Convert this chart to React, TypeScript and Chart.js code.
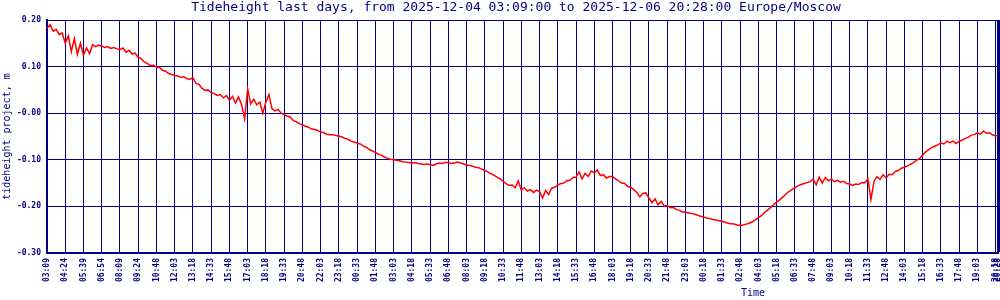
import React, { useEffect, useRef } from "react";
import { Chart, registerables } from "chart.js";

Chart.register(...registerables);

const TITLE = "Tideheight last days, from 2025-12-04 03:09:00 to 2025-12-06 20:28:00 Europe/Moscow";
const Y_TITLE = "tideheight project, m";
const X_TITLE = "Time";

const tickLabels = [
  "03:09", "04:24", "05:39", "06:54", "08:09", "09:24", "10:48", "12:03", "13:18", "14:33",
  "15:48", "17:03", "18:18", "19:33", "20:48", "22:03", "23:18", "00:33", "01:48", "03:03",
  "04:18", "05:33", "06:48", "08:03", "09:18", "10:33", "11:48", "13:03", "14:18", "15:33",
  "16:48", "18:03", "19:18", "20:33", "21:48", "23:03", "00:18", "01:33", "02:48", "04:03",
  "05:18", "06:33", "07:48", "09:03", "10:18", "11:33", "12:48", "14:03", "15:18", "16:33",
  "17:48", "19:03", "20:18",
];
const endLabel = "20:28";
const minutesPerTick = 75;
const endMinutesAfterLastTick = 10;
const samplesPerTick = 6;

const yTickValues = [0.2, 0.1, 0, -0.1, -0.2, -0.3];
const yTickLabels = ["0.20", "0.10", "-0.00", "-0.10", "-0.20", "-0.30"];

// tide height (m), 6 samples per label interval
const tideHeight = [
  0.182, 0.190, 0.176, 0.180, 0.169, 0.172,
  0.150, 0.166, 0.132, 0.160, 0.126, 0.150,
  0.124, 0.140, 0.128, 0.147, 0.143, 0.146,
  0.144, 0.141, 0.143, 0.139, 0.141, 0.138,
  0.137, 0.140, 0.131, 0.135, 0.127, 0.129,
  0.120, 0.117, 0.110, 0.107, 0.102, 0.103,
  0.099, 0.098, 0.092, 0.090, 0.085, 0.083,
  0.081, 0.080, 0.077, 0.078, 0.074, 0.073,
  0.076, 0.064, 0.062, 0.053, 0.049, 0.050,
  0.044, 0.042, 0.038, 0.040, 0.033, 0.038,
  0.028, 0.036, 0.022, 0.035, 0.018, -0.012,
  0.052, 0.020, 0.030, 0.018, 0.024, 0.000,
  0.024, 0.040, 0.010, 0.005, 0.008, 0.000,
  -0.003, -0.006, -0.008, -0.016, -0.018, -0.023,
  -0.025, -0.028, -0.030, -0.034, -0.035, -0.037,
  -0.040, -0.042, -0.045, -0.046, -0.046, -0.048,
  -0.049, -0.051, -0.054, -0.056, -0.060, -0.062,
  -0.064, -0.066, -0.070, -0.073, -0.078, -0.081,
  -0.084, -0.088, -0.090, -0.094, -0.097, -0.099,
  -0.100, -0.101, -0.102, -0.104, -0.105, -0.106,
  -0.107, -0.106, -0.108, -0.109, -0.110, -0.109,
  -0.110, -0.112, -0.109, -0.107, -0.108, -0.106,
  -0.106, -0.108, -0.107, -0.105, -0.107, -0.109,
  -0.111, -0.112, -0.114, -0.116, -0.117, -0.120,
  -0.123, -0.126, -0.130, -0.133, -0.137, -0.141,
  -0.146, -0.151, -0.155, -0.154, -0.160, -0.145,
  -0.165, -0.160, -0.167, -0.164, -0.170, -0.165,
  -0.168, -0.182, -0.166, -0.174, -0.161, -0.159,
  -0.154, -0.151, -0.150, -0.145, -0.144, -0.138,
  -0.137, -0.126, -0.141, -0.129, -0.136, -0.124,
  -0.128, -0.122, -0.134, -0.132, -0.139, -0.136,
  -0.136, -0.141, -0.145, -0.150, -0.151, -0.157,
  -0.159, -0.164, -0.170, -0.180, -0.172, -0.171,
  -0.182, -0.192, -0.184, -0.197, -0.189, -0.199,
  -0.198, -0.203, -0.202, -0.207, -0.208, -0.212,
  -0.212, -0.214, -0.215, -0.217, -0.219, -0.221,
  -0.223, -0.225, -0.226, -0.228, -0.229, -0.231,
  -0.232, -0.234, -0.236, -0.237, -0.238, -0.240,
  -0.241, -0.240, -0.238, -0.236, -0.233, -0.229,
  -0.224, -0.220, -0.213, -0.208, -0.202, -0.196,
  -0.191, -0.186, -0.180, -0.174, -0.168, -0.164,
  -0.160, -0.156, -0.153, -0.151, -0.149, -0.147,
  -0.141, -0.154, -0.137, -0.150, -0.138, -0.145,
  -0.141, -0.147, -0.144, -0.148, -0.146, -0.151,
  -0.152, -0.155, -0.152, -0.153, -0.149, -0.149,
  -0.141, -0.185, -0.147, -0.136, -0.142, -0.132,
  -0.139, -0.131, -0.132, -0.125, -0.123, -0.118,
  -0.116, -0.113, -0.110, -0.106, -0.101, -0.097,
  -0.090, -0.083, -0.078, -0.074, -0.071, -0.068,
  -0.064, -0.066, -0.060, -0.063, -0.060, -0.065,
  -0.060, -0.058, -0.054, -0.052, -0.047, -0.046,
  -0.042, -0.045, -0.038, -0.043, -0.042, -0.047,
  -0.048, -0.049,
];

const NAVY = "#000080";
const MONO = "'DejaVu Sans Mono', 'Liberation Mono', monospace";

export default function App() {
  const canvasRef = useRef<HTMLCanvasElement | null>(null);

  useEffect(() => {
    const canvas = canvasRef.current;
    if (!canvas) return;
    const lastTick = tickLabels.length - 1;
    const xMax = lastTick + endMinutesAfterLastTick / minutesPerTick;

    const textPlugin = {
      id: "texts",
      afterDraw(chart: any) {
        const ctx = chart.ctx;
        const area = chart.chartArea;
        ctx.save();
        ctx.fillStyle = NAVY;
        ctx.textBaseline = "middle";
        ctx.textAlign = "center";
        ctx.font = `13px ${MONO}`;
        ctx.fillText(TITLE, 516, 8);
        ctx.font = `10px ${MONO}`;
        ctx.fillText(X_TITLE, 753, 293);
        ctx.translate(7, (area.top + area.bottom) / 2);
        ctx.rotate(-Math.PI / 2);
        ctx.fillText(Y_TITLE, 0, 0);
        ctx.restore();
      },
    };

    const chart = new Chart(canvas, {
      type: "line",
      data: {
        datasets: [
          {
            data: tideHeight.map((v, i) => ({ x: i / samplesPerTick, y: v })),
            borderColor: "#ff0000",
            borderWidth: 1.5,
            pointRadius: 0,
            fill: false,
          },
        ],
      },
      options: {
        responsive: false,
        animation: false,
        layout: { padding: { top: 20, right: 2, left: 0, bottom: 0 } },
        plugins: {
          legend: { display: false },
          tooltip: { enabled: false },
          title: { display: false },
        },
        scales: {
          x: {
            type: "linear",
            min: 0,
            max: xMax,
            afterBuildTicks: (scale: any) => {
              const t = tickLabels.map((_, i) => ({ value: i }));
              t.push({ value: xMax });
              scale.ticks = t;
            },
            afterFit: (scale: any) => {
              scale.height = 47;
              scale.paddingLeft = 0;
              scale.paddingRight = 0;
            },
            ticks: {
              autoSkip: false,
              minRotation: 90,
              maxRotation: 90,
              padding: 5,
              color: NAVY,
              font: { family: MONO, size: 8, weight: "bold" },
              callback: (_v: any, index: number) =>
                index < tickLabels.length ? tickLabels[index] : endLabel,
            },
            grid: {
              color: NAVY,
              lineWidth: (ctx: any) => (ctx.index === tickLabels.length ? 3 : 1),
              drawTicks: false,
            },
            border: { display: true, color: NAVY, width: 2 },
          },
          y: {
            type: "linear",
            min: -0.3,
            max: 0.2,
            afterBuildTicks: (scale: any) => {
              scale.ticks = yTickValues.map((v) => ({ value: v }));
            },
            afterFit: (scale: any) => {
              scale.width = 47;
            },
            ticks: {
              padding: 6,
              color: NAVY,
              font: { family: MONO, size: 8, weight: "bold" },
              callback: (_v: any, index: number) => yTickLabels[index],
            },
            grid: { color: NAVY, lineWidth: 1, drawTicks: false },
            border: { display: true, color: NAVY, width: 2 },
          },
        },
      },
      plugins: [textPlugin],
    } as any);

    return () => chart.destroy();
  }, []);

  return (
    <div style={{ position: "absolute", left: 0, top: 0, width: 1000, height: 300, background: "#fff" }}>
      <canvas ref={canvasRef} width={1000} height={300} />
    </div>
  );
}
